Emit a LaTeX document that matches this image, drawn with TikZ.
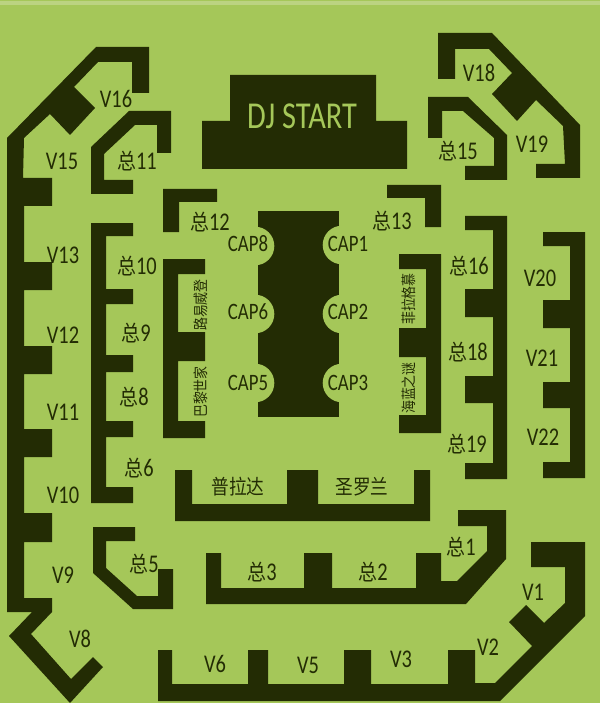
\documentclass[tikz,border=0pt]{standalone}
\usepackage{fontspec}
\setmainfont[FakeStretch=0.8]{Carlito}
\newfontfamily\cjk[FakeStretch=0.86]{Noto Sans CJK SC}
\newcommand{\zong}{{\cjk\fontsize{22}{22}\selectfont 总}}
\definecolor{lawn}{HTML}{A5C759}
\definecolor{lawntop}{HTML}{BBD381}
\definecolor{wall}{HTML}{232C04}
\tikzset{
	block/.style={fill=wall},
	seat/.style={inner sep=0pt, text=wall, font=\fontsize{25.5}{25.5}\selectfont},
	caplabel/.style={seat, font=\fontsize{23.5}{23.5}\selectfont},
	brand/.style={seat, font=\cjk\fontsize{20.5}{20.5}\selectfont},
	shop/.style={seat, font=\cjk\fontsize{15}{15}\selectfont, rotate=90}
}
\begin{document}
\begin{tikzpicture}[x=1pt,y=-1pt]
	\useasboundingbox (0,0) rectangle (600,703);
	\fill[lawn] (0,0) rectangle (600,703);
	\fill[lawntop] (0,1) rectangle (600,5);
	% outer ring, left side
	\fill[block] (96,47) -- (149,47) -- (149,93) -- (132,93) -- (132,62) -- (98,62) -- (74,87) -- (95,108) -- (70,135) -- (50,114) -- (24,138) -- (23,178) -- (52,178) -- (52,206) -- (24,206) -- (24,262) -- (52,262) -- (52,290) -- (24,290) -- (24,346) -- (52,346) -- (52,374) -- (24,374) -- (24,429) -- (52,429) -- (52,457) -- (24,457) -- (24,513) -- (52,513) -- (52,542) -- (24,542) -- (24,598) -- (52,598) -- (52,612) -- (31,634) -- (71,679) -- (93,657) -- (103,667) -- (70,703) -- (9,636) -- (32,612) -- (7,612) -- (7,138) -- cycle;
	\fill[block] (438,33) -- (492,33) -- (580,125) -- (580,178) -- (536,178) -- (536,164) -- (565,164) -- (563,126) -- (536,100) -- (517,121) -- (492,94) -- (512,73) -- (489,49) -- (455,49) -- (455,79) -- (438,79) -- cycle;
	\fill[block] (158,650) -- (172,650) -- (172,684) -- (248,684) -- (248,650) -- (268,650) -- (268,684) -- (344,684) -- (344,650) -- (371,650) -- (371,684) -- (448,684) -- (448,650) -- (475,650) -- (475,683) -- (495,683) -- (532,646) -- (509,622) -- (526,605) -- (544,623) -- (565,603) -- (565,567) -- (531,567) -- (531,542) -- (585,542) -- (585,616) -- (500,701) -- (158,701) -- cycle;
	\fill[block] (543,232) -- (585,232) -- (585,478) -- (543,478) -- (543,462) -- (570,462) -- (570,408) -- (543,408) -- (543,382) -- (570,382) -- (570,328) -- (543,328) -- (543,300) -- (570,300) -- (570,246) -- (543,246) -- cycle;
	% inner ring
	\fill[block] (129,111) -- (171,111) -- (171,153) -- (157,153) -- (157,125) -- (135,125) -- (104,154) -- (104,180) -- (133,180) -- (133,194) -- (91,194) -- (91,147) -- cycle;
	\fill[block] (428,97) -- (468,97) -- (507,135) -- (507,180) -- (465,180) -- (465,166) -- (494,166) -- (494,138) -- (463,111) -- (442,111) -- (442,138) -- (428,138) -- cycle;
	\fill[block] (91,223) -- (133,223) -- (133,236) -- (106,236) -- (106,289) -- (133,289) -- (133,304) -- (106,304) -- (106,355) -- (133,355) -- (133,372) -- (106,372) -- (106,421) -- (133,421) -- (133,437) -- (106,437) -- (106,487) -- (133,487) -- (133,503) -- (91,503) -- cycle;
	\fill[block] (465,216) -- (507,216) -- (507,479) -- (465,479) -- (465,463) -- (493,463) -- (493,403) -- (465,403) -- (465,376) -- (493,376) -- (493,317) -- (465,317) -- (465,289) -- (493,289) -- (493,230) -- (465,230) -- cycle;
	\fill[block] (93,527) -- (135,527) -- (135,541) -- (106,541) -- (106,568) -- (137,596) -- (158,596) -- (158,569) -- (173,569) -- (173,609) -- (133,609) -- (93,573) -- cycle;
	\fill[block] (206,553) -- (221,553) -- (221,588) -- (304,588) -- (304,553) -- (332,553) -- (332,588) -- (416,588) -- (416,553) -- (441,553) -- (441,581) -- (457,581) -- (487,551) -- (487,526) -- (458,526) -- (458,510) -- (506,510) -- (506,559) -- (466,604) -- (206,604) -- cycle;
	% stage
	\fill[block] (230,75) -- (376,75) -- (376,121) -- (407,121) -- (407,169) -- (202,169) -- (202,121) -- (230,121) -- cycle;
	\fill[block] (163,189) -- (217,189) -- (217,202) -- (179,202) -- (179,232) -- (163,232) -- cycle;
	\fill[block] (387,185) -- (441,185) -- (441,227) -- (425,227) -- (425,198) -- (387,198) -- cycle;
	\fill[block] (163,259) -- (205,259) -- (205,274) -- (178,274) -- (178,332) -- (205,332) -- (205,361) -- (178,361) -- (178,421) -- (205,421) -- (205,438) -- (163,438) -- cycle;
	\fill[block] (399,254) -- (441,254) -- (441,433) -- (399,433) -- (399,415) -- (426,415) -- (426,357) -- (399,357) -- (399,328) -- (426,328) -- (426,269) -- (399,269) -- cycle;
	\fill[block] (175,470) -- (192,470) -- (192,504) -- (287,504) -- (287,470) -- (318,470) -- (318,504) -- (414,504) -- (414,470) -- (430,470) -- (430,521) -- (175,521) -- cycle;
	\fill[block] (258,211) rectangle (339,417);
	\fill[lawn] (255,246) circle[radius=19.3];
	\fill[lawn] (255,314) circle[radius=19.3];
	\fill[lawn] (255,383) circle[radius=19.3];
	\fill[lawn] (342,245) circle[radius=19.3];
	\fill[lawn] (342,314) circle[radius=19.3];
	\fill[lawn] (342,383) circle[radius=19.3];
	\node (dj) at (302,116) [seat, text=lawn, font=\fontsize{38}{38}\selectfont] {DJ START};
	\node (v1) at (533,592) [seat] {V1};
	\node (v2) at (488,647) [seat] {V2};
	\node (v3) at (401,659) [seat] {V3};
	\node (v5) at (308,665) [seat] {V5};
	\node (v6) at (215,664) [seat] {V6};
	\node (v8) at (80,639) [seat] {V8};
	\node (v9) at (63,575) [seat] {V9};
	\node (v10) at (63,495) [seat] {V10};
	\node (v11) at (63,412) [seat] {V11};
	\node (v12) at (63,335) [seat] {V12};
	\node (v13) at (63,255) [seat] {V13};
	\node (v15) at (62,161) [seat] {V15};
	\node (v16) at (116,99) [seat] {V16};
	\node (v18) at (479,73) [seat] {V18};
	\node (v19) at (532,144) [seat] {V19};
	\node (v20) at (540,278) [seat] {V20};
	\node (v21) at (542,358) [seat] {V21};
	\node (v22) at (543,437) [seat] {V22};
	\node (z1) at (461,547) [seat] {\zong 1};
	\node (z2) at (373,572) [seat] {\zong 2};
	\node (z3) at (262,572) [seat] {\zong 3};
	\node (z5) at (144,564) [seat] {\zong 5};
	\node (z6) at (139,468) [seat] {\zong 6};
	\node (z8) at (134,397) [seat] {\zong 8};
	\node (z9) at (136,333) [seat] {\zong 9};
	\node (z10) at (137,266) [seat] {\zong 10};
	\node (z11) at (137,161) [seat] {\zong 11};
	\node (z12) at (210,222) [seat] {\zong 12};
	\node (z13) at (392,221) [seat] {\zong 13};
	\node (z15) at (458,151) [seat] {\zong 15};
	\node (z16) at (469,266) [seat] {\zong 16};
	\node (z18) at (468,352) [seat] {\zong 18};
	\node (z19) at (467,444) [seat] {\zong 19};
	\node (cap1) at (348,244) [caplabel] {CAP1};
	\node (cap2) at (348,312) [caplabel] {CAP2};
	\node (cap3) at (348,383) [caplabel] {CAP3};
	\node (cap5) at (248,383) [caplabel] {CAP5};
	\node (cap6) at (248,312) [caplabel] {CAP6};
	\node (cap8) at (248,244) [caplabel] {CAP8};
	\node (prada) at (238,487) [brand] {普拉达};
	\node (ysl) at (362,487) [brand] {圣罗兰};
	\node (lv) at (201,305) [shop] {路易威登};
	\node (chanel) at (201,392) [shop] {巴黎世家};
	\node (ferragamo) at (409,299) [shop] {菲拉格慕};
	\node (lamer) at (409,388) [shop] {海蓝之谜};
\end{tikzpicture}
\end{document}
